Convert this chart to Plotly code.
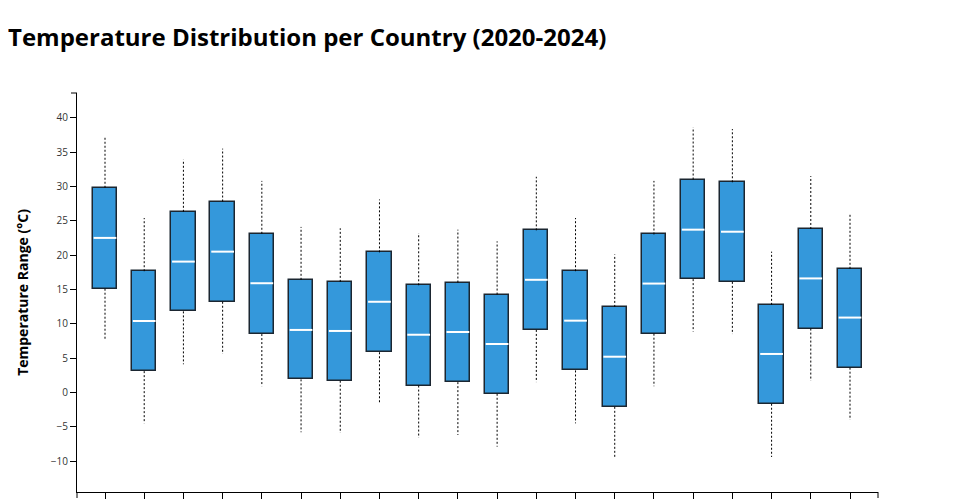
import plotly.graph_objects as go

countries = ["Australia", "Canada", "China", "Egypt", "France", "Germany", "Hungary",
             "Italy", "Japan", "Korea", "Norway", "Mexico", "Poland", "Russia",
             "Spain", "Thailand", "UAE", "Ukraine", "USA", "Vietnam"]
lower = [7.7, -4.5, 4.1, 5.6, 0.9, -5.8, -5.9, -1.7, -6.6, -6.2,
         -7.9, 1.5, -4.5, -9.6, 0.9, 8.85, 8.5, -9.4, 1.7, -4.0]
q1 = [15.1, 3.1, 11.8, 13.2, 8.5, 1.9, 1.7, 5.85, 1.0, 1.5,
      -0.2, 9.1, 3.2, -2.1, 8.55, 16.5, 16.1, -1.65, 9.3, 3.6]
median = [22.5, 10.4, 19.05, 20.5, 15.9, 9.1, 8.95, 13.2, 8.4, 8.8,
          7.05, 16.4, 10.45, 5.2, 15.85, 23.7, 23.4, 5.6, 16.6, 10.9]
q3 = [29.8, 17.65, 26.3, 27.8, 23.1, 16.4, 16.1, 20.4, 15.6, 16.0,
      14.25, 23.6, 17.65, 12.45, 23.0, 31.0, 30.6, 12.75, 23.8, 18.0]
upper = [37.1, 25.4, 33.9, 35.5, 30.8, 24.1, 23.9, 28.1, 23.2, 23.7,
         22.0, 31.4, 25.4, 20.1, 30.8, 38.6, 38.35, 20.5, 31.5, 25.9]
y_ticks = [-10, -5, 0, 5, 10, 15, 20, 25, 30, 35, 40]

BOX_W = 0.62
idx = list(range(len(countries)))

fig = go.Figure()

# whiskers
wx, wy = [], []
for i in idx:
    wx += [i, i, None, i, i, None]
    wy += [q3[i], upper[i], None, q1[i], lower[i], None]
fig.add_trace(go.Scatter(x=wx, y=wy, mode="lines",
                         line=dict(color="#000000", width=1, dash="2px,2px"),
                         hoverinfo="skip", showlegend=False))

# boxes
fig.add_trace(go.Bar(x=idx, base=q1, y=[b - a for a, b in zip(q1, q3)],
                     width=BOX_W,
                     marker=dict(color="#3498db", line=dict(color="#1b2631", width=1.5)),
                     customdata=list(zip(countries, lower, q1, median, q3, upper)),
                     hovertemplate="%{customdata[0]}<extra></extra>",
                     showlegend=False))

# medians
mx, my = [], []
for i in idx:
    mx += [i - BOX_W / 2 + 0.02, i + BOX_W / 2 - 0.02, None]
    my += [median[i], median[i], None]
fig.add_trace(go.Scatter(x=mx, y=my, mode="lines",
                         line=dict(color="#ffffff", width=2),
                         hoverinfo="skip", showlegend=False))

fig.update_layout(
    width=960, height=500,
    margin=dict(l=69, r=90, t=85, b=16, autoexpand=False),
    paper_bgcolor="white", plot_bgcolor="white",
    font=dict(family="Open Sans", color="#333333"),
    title=dict(text="<b>Temperature Distribution per Country (2020-2024)</b>",
               font=dict(family="Open Sans", size=24, color="#000000"),
               x=0, xref="container", xanchor="left",
               y=1 - 30 / 500, yref="container", yanchor="middle"),
    bargap=0,
    xaxis=dict(range=[-0.714, len(countries) - 1 + 0.714],
               tickmode="array", tickvals=idx, ticktext=countries,
               tickangle=-45,
               showline=True, linecolor="#000000", linewidth=1,
               ticks="outside", ticklen=6, tickcolor="#000000",
               showgrid=False, zeroline=False, automargin=False,
               tickfont=dict(size=10)),
    yaxis=dict(range=[-14.5, 43.6], tickmode="array", tickvals=y_ticks,
               ticktext=[("\u2212" + str(-t)) if t < 0 else str(t) for t in y_ticks],
               showline=True, linecolor="#000000", linewidth=1,
               ticks="outside", ticklen=6, tickcolor="#000000",
               showgrid=False, zeroline=False, automargin=False,
               tickfont=dict(size=10, color="#333333"),
               title=dict(text="<b>Temperature Range (°C)</b>",
                          font=dict(family="Open Sans", size=14, color="#000000"),
                          standoff=18)),
)

# D3-style outer ticks at axis ends
for xx in [0, 1]:
    fig.add_shape(type="line", xref="paper", yref="paper", x0=xx, x1=xx,
                  y0=0, y1=-6 / 399, line=dict(color="#000000", width=1))
fig.add_shape(type="line", xref="paper", yref="paper", x0=0, x1=-6 / 801,
              y0=1, y1=1, line=dict(color="#000000", width=1))

fig.write_html("out.html")
